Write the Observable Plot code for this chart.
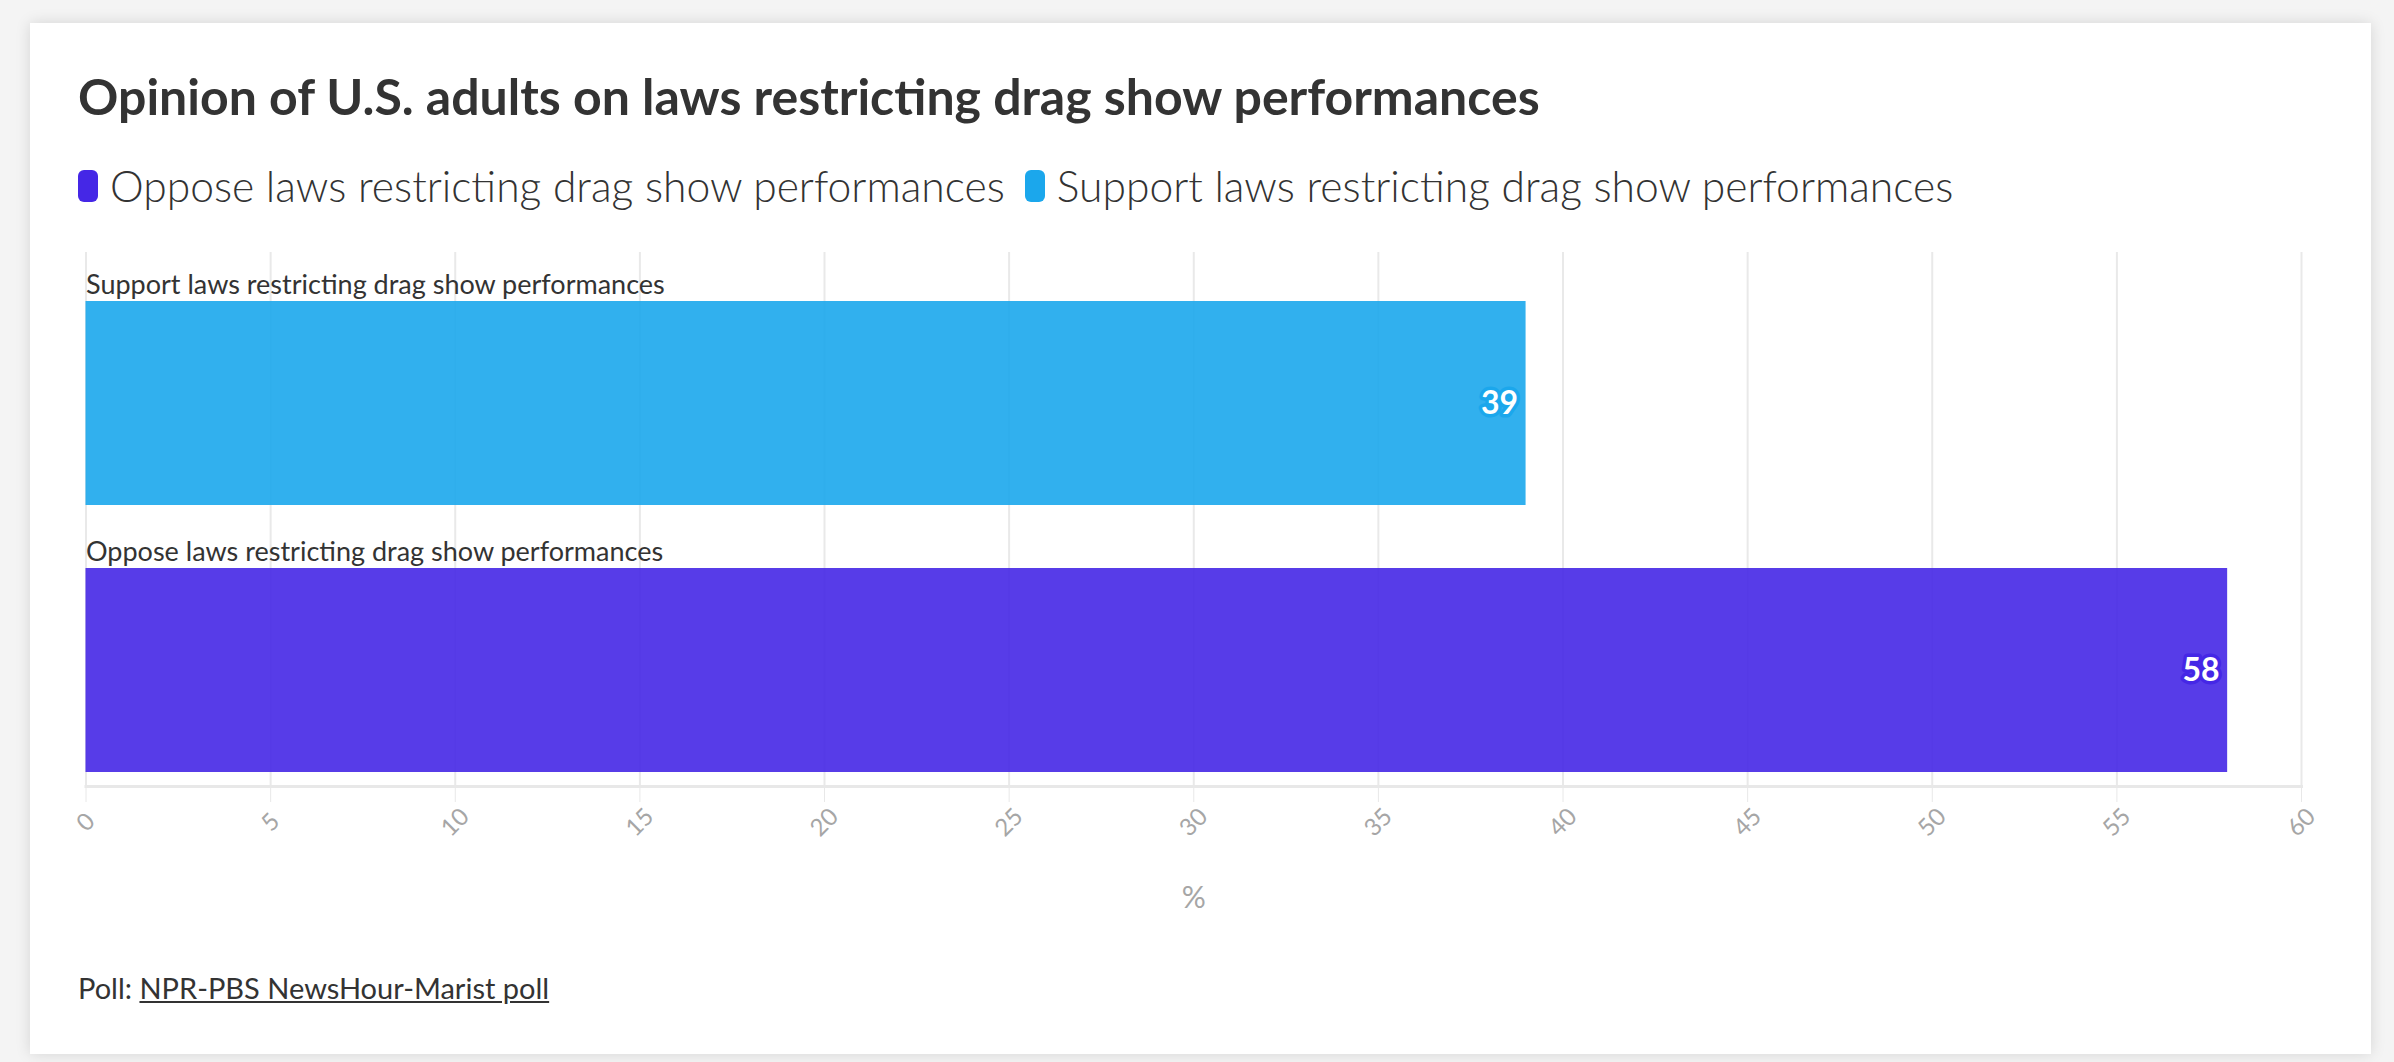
<!DOCTYPE html>
<html><head><meta charset="utf-8">
<script src="https://cdn.jsdelivr.net/npm/d3@7"></script>
<script src="https://cdn.jsdelivr.net/npm/@observablehq/plot@0.6"></script>
<style>
html,body{margin:0;padding:0;background:#f4f4f4;width:2394px;height:1062px;overflow:hidden;font-family:Lato,sans-serif;}
#card{position:absolute;left:30px;top:23px;width:2341px;height:1031px;background:#fff;box-shadow:0 0 14px rgba(0,0,0,0.13);}
#title{position:absolute;left:78px;top:71px;font-size:50px;font-weight:700;line-height:1;color:#333;white-space:nowrap;}
#legend{position:absolute;left:78px;top:165px;display:flex;align-items:center;font-size:42.6px;font-weight:300;line-height:1;color:#333;white-space:nowrap;}
#legend .item{display:flex;align-items:center;margin-right:20px;}
#legend .sw{width:20px;height:32px;border-radius:6px;margin-right:12px;}
#chart{position:absolute;left:0;top:220px;}
#footer{position:absolute;left:78px;top:973px;font-size:29px;line-height:1;color:#333;white-space:nowrap;}
#footer a{color:#333;text-decoration:underline;}
</style></head>
<body>
<div id="card"></div>
<div id="title"></div>
<div id="legend"></div>
<div id="chart"></div>
<div id="footer"></div>
<script>
const titleText = "Opinion of U.S. adults on laws restricting drag show performances";
const categories = ["Support laws restricting drag show performances", "Oppose laws restricting drag show performances"];
const values = [39, 58];
const legendOrder = ["Oppose laws restricting drag show performances", "Support laws restricting drag show performances"];
const palette = ["#4527e6", "#1ba7ec"];
const xTicks = [0, 5, 10, 15, 20, 25, 30, 35, 40, 45, 50, 55, 60];
const axisLabel = "%";
const sourcePrefix = "Poll: ";
const sourceName = "NPR-PBS NewsHour-Marist poll";

const rows = categories.map((c, i) => ({category: c, value: values[i]}));

document.getElementById("title").textContent = titleText;
const legend = document.getElementById("legend");
legendOrder.forEach((c, i) => {
  const item = document.createElement("div");
  item.className = "item";
  const sw = document.createElement("div");
  sw.className = "sw";
  sw.style.background = palette[i];
  const t = document.createElement("span");
  t.textContent = c;
  item.appendChild(sw); item.appendChild(t);
  legend.appendChild(item);
});
const footer = document.getElementById("footer");
footer.appendChild(document.createTextNode(sourcePrefix));
const a = document.createElement("a");
a.textContent = sourceName;
footer.appendChild(a);

const chart = Plot.plot({
  width: 2394, height: 720,
  marginLeft: 85.5, marginRight: 93, marginTop: 32, marginBottom: 154,
  style: {background: "transparent", overflow: "visible", fontFamily: "Lato, sans-serif"},
  x: {domain: [0, 60], ticks: xTicks},
  y: {type: "band", domain: categories, range: [18, 552], padding: 0, axis: null},
  color: {domain: legendOrder, range: palette},
  marks: [
    Plot.gridX(xTicks, {stroke: "#e9e9e9", strokeOpacity: 1, strokeWidth: 2}),
    Plot.barX(rows, {x: "value", y: "category", fill: "category", fillOpacity: 0.9, insetTop: 63, insetBottom: 0}),
    Plot.text(rows, {x: 0, y: "category", text: "category", textAnchor: "start", lineAnchor: "bottom", dx: 0, dy: -78.5, fill: "#333", fontSize: 27, fontWeight: 400}),
    Plot.text(rows, {x: "value", y: "category", text: d => String(d.value), textAnchor: "end", lineAnchor: "middle", dx: -8, dy: 32, fill: "white", stroke: "category", strokeWidth: 7, strokeLinejoin: "round", paintOrder: "stroke", fontSize: 32, fontWeight: 700}),
    Plot.frame({anchor: "bottom", stroke: "#e8e8e8", strokeWidth: 3}),
    Plot.axisX(xTicks, {tickSize: 16, tickPadding: 20, tickRotate: -45, textAnchor: "middle", lineAnchor: "middle", stroke: "#e8e8e8", fill: "#a6a6a6", fontSize: 24, fontWeight: 400, label: null}),
    Plot.text([axisLabel], {frameAnchor: "bottom", dy: 112, lineAnchor: "middle", fill: "#a6a6a6", fontSize: 30, fontWeight: 400})
  ]
});
document.getElementById("chart").appendChild(chart);
</script>
</body></html>
